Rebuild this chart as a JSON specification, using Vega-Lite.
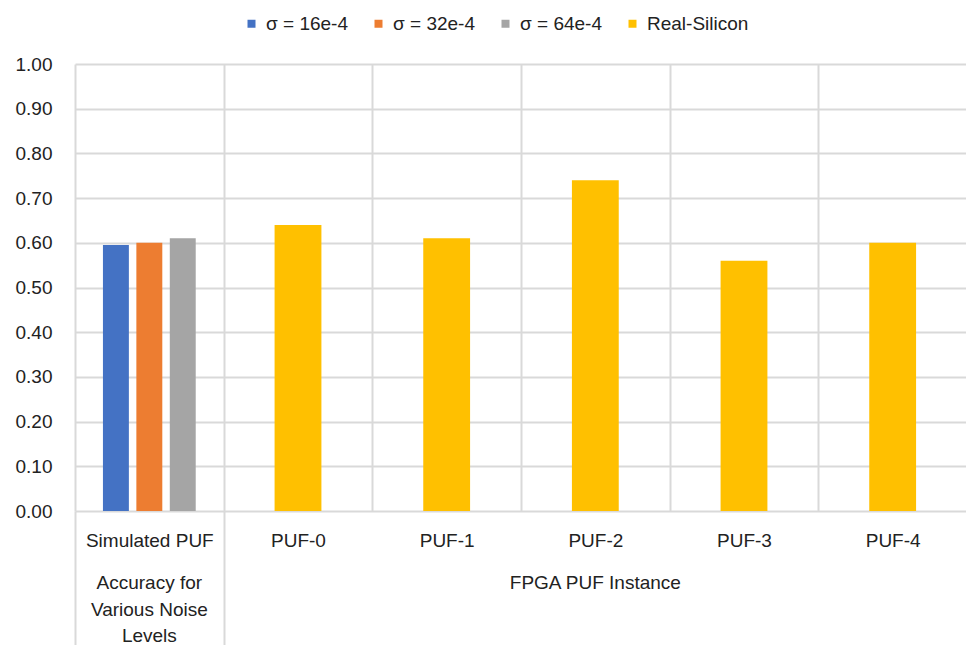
{
  "$schema": "https://vega.github.io/schema/vega-lite/v6.json",
  "autosize": {"type": "none"},
  "padding": {"left": 75, "top": 64, "right": 0, "bottom": 134},
  "width": 892,
  "height": 447,
  "background": "white",
  "config": {"view": {"stroke": null}, "font": "Liberation Sans"},
  "data": {"values": [
    {"cat": "Simulated PUF", "series": "σ = 16e-4", "value": 0.595},
    {"cat": "Simulated PUF", "series": "σ = 32e-4", "value": 0.60},
    {"cat": "Simulated PUF", "series": "σ = 64e-4", "value": 0.61},
    {"cat": "PUF-0", "series": "Real-Silicon", "value": 0.64},
    {"cat": "PUF-1", "series": "Real-Silicon", "value": 0.61},
    {"cat": "PUF-2", "series": "Real-Silicon", "value": 0.74},
    {"cat": "PUF-3", "series": "Real-Silicon", "value": 0.56},
    {"cat": "PUF-4", "series": "Real-Silicon", "value": 0.60},
    {"cat": "Simulated PUF", "group": "Accuracy for|Various Noise|Levels"},
    {"cat": "PUF-2", "group": "FPGA PUF Instance"}
  ]},
  "layer": [
    {
      "transform": [{"filter": {"field": "series", "oneOf": ["σ = 16e-4", "σ = 32e-4", "σ = 64e-4"]}}],
      "mark": {"type": "bar"},
      "encoding": {
        "x": {
          "field": "cat", "type": "nominal",
          "sort": ["Simulated PUF", "PUF-0", "PUF-1", "PUF-2", "PUF-3", "PUF-4"],
          "scale": {"paddingInner": 0, "paddingOuter": 0},
          "axis": {
            "title": null, "domain": false, "grid": true, "tickBand": "extent",
            "gridColor": "#d9d9d9", "gridWidth": 2,
            "ticks": true, "tickSize": 134, "tickColor": "#d9d9d9", "tickWidth": 2,
            "tickOpacity": {"condition": {"test": "datum.value === 'Simulated PUF' || datum.extra", "value": 1}, "value": 0},
            "labelPadding": -114, "labelAngle": 0, "labelFontSize": 19, "labelColor": "#222222"
          }
        },
        "xOffset": {"field": "series", "type": "nominal",
          "sort": ["σ = 16e-4", "σ = 32e-4", "σ = 64e-4"],
          "scale": {"paddingInner": 0.224, "paddingOuter": 0.836}},
        "y": {
          "field": "value", "type": "quantitative",
          "scale": {"domain": [0, 1], "nice": false},
          "axis": {
            "title": null, "domain": false, "ticks": false, "grid": true,
            "gridColor": "#d9d9d9", "gridWidth": 2,
            "values": [0, 0.1, 0.2, 0.3, 0.4, 0.5, 0.6, 0.7, 0.8, 0.9, 1.0],
            "format": ".2f", "labelPadding": 23, "labelFontSize": 19, "labelColor": "#222222"
          }
        },
        "color": {
          "field": "series", "type": "nominal",
          "scale": {
            "domain": ["σ = 16e-4", "σ = 32e-4", "σ = 64e-4", "Real-Silicon"],
            "range": ["#4472C4", "#ED7D31", "#A5A5A5", "#FFC000"]
          },
          "legend": {
            "title": null, "orient": "none", "legendX": 167, "legendY": -50,
            "direction": "horizontal", "symbolType": "square", "symbolSize": 64,
            "symbolStrokeWidth": 0, "labelFontSize": 19, "labelColor": "#222222",
            "labelOffset": 5, "columnPadding": 21
          }
        }
      }
    },
    {
      "transform": [{"filter": {"field": "series", "equal": "Real-Silicon"}}],
      "mark": {"type": "bar", "width": {"band": 0.315}},
      "encoding": {
        "x": {"field": "cat", "type": "nominal",
          "sort": ["Simulated PUF", "PUF-0", "PUF-1", "PUF-2", "PUF-3", "PUF-4"]},
        "y": {"field": "value", "type": "quantitative", "scale": {"domain": [0, 1], "nice": false}},
        "color": {"field": "series", "type": "nominal"}
      }
    },
    {
      "transform": [{"filter": "isValid(datum.group)"}],
      "mark": {"type": "text", "lineBreak": "|", "baseline": "top", "align": "center", "fontSize": 19, "lineHeight": 26.5, "fill": "#222222"},
      "encoding": {
        "x": {"field": "cat", "type": "nominal",
          "sort": ["Simulated PUF", "PUF-0", "PUF-1", "PUF-2", "PUF-3", "PUF-4"]},
        "y": {"datum": -0.141, "type": "quantitative"},
        "text": {"field": "group", "type": "nominal"}
      }
    }
  ]
}
